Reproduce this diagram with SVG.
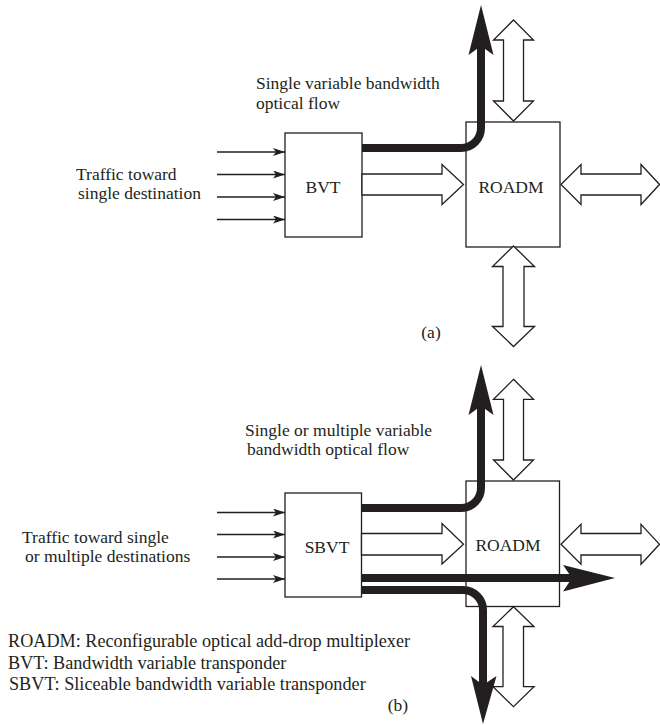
<svg xmlns="http://www.w3.org/2000/svg" width="660" height="725" viewBox="0 0 660 725">
<defs>
<style>
text{font-family:"Liberation Serif","Times New Roman",serif;font-size:17.5px;fill:#231f20}
.leg{font-size:18.2px}
.box{fill:#fff;stroke:#231f20;stroke-width:1.3}
.hollow{fill:#fff;stroke:#231f20;stroke-width:1.3;stroke-linejoin:miter}
.in{stroke:#231f20;stroke-width:1.3;fill:none;marker-end:url(#dart)}
.flow{stroke:#231f20;stroke-width:8;fill:none}
.head{fill:#231f20;stroke:none}
.mid{text-anchor:middle}
</style>
<marker id="dart" viewBox="0 0 12 8" refX="12" refY="4" markerWidth="12" markerHeight="8" markerUnits="userSpaceOnUse" orient="auto">
<path d="M0,0 L12,4 L0,8 L3,4 Z" fill="#231f20"/>
</marker>
</defs>
<rect width="660" height="725" fill="#fff"/>

<!-- Part (a) -->
<g id="a-labels">
<text x="256" y="88.5">Single variable bandwidth</text>
<text x="256" y="108.5">optical flow</text>
<text x="76" y="180">Traffic toward</text>
<text x="78" y="199">single destination</text>
<text class="mid" x="431" y="338">(a)</text>
</g>
<g id="a-bvt">
<rect class="box" x="285" y="133" width="77" height="104"/>
<text class="mid" x="323" y="193">BVT</text>
</g>
<g id="a-roadm">
<rect class="box" x="466" y="122" width="94" height="125"/>
<text class="mid" x="511" y="193">ROADM</text>
</g>
<g id="a-connectors">
<line class="in" x1="217" y1="152" x2="285" y2="152"/>
<line class="in" x1="217" y1="174.5" x2="285" y2="174.5"/>
<line class="in" x1="217" y1="197" x2="285" y2="197"/>
<line class="in" x1="217" y1="219.5" x2="285" y2="219.5"/>
<polygon class="hollow" points="362,174 442,174 442,164.5 463.5,184.5 442,204.5 442,195 362,195"/>
<polygon class="hollow" points="513.5,20 533.5,40 523.5,40 523.5,101 533.5,101 513.5,121 493.5,101 503.5,101 503.5,40 493.5,40"/>
<polygon class="hollow" points="513.5,246 534.5,266.5 524,266.5 524,326.5 534.5,326.5 513.5,346.5 492.5,326.5 503,326.5 503,266.5 492.5,266.5"/>
<polygon class="hollow" points="561,184.5 581,164.5 581,174 641,174 641,164.5 659.5,184.5 641,204.5 641,195 581,195 581,204.5"/>
<path class="flow" d="M362,148 H461 A20,20 0 0 0 481,128 V46"/>
<polygon class="head" points="481,5 493.5,55 481,46 468.5,55"/>
</g>

<!-- Part (b) -->
<g id="b-labels">
<text x="245" y="435.5">Single or multiple variable</text>
<text x="247" y="455">bandwidth optical flow</text>
<text x="22" y="543">Traffic toward single</text>
<text x="25" y="562">or multiple destinations</text>
<text class="mid" x="398" y="711">(b)</text>
</g>
<g id="legend">
<text class="leg" x="8" y="647">ROADM: Reconfigurable optical add-drop multiplexer</text>
<text class="leg" x="8" y="668.5">BVT: Bandwidth variable transponder</text>
<text class="leg" x="9" y="690">SBVT: Sliceable bandwidth variable transponder</text>
</g>
<g id="b-sbvt">
<rect class="box" x="285" y="493" width="76.5" height="104"/>
<text class="mid" x="327" y="553">SBVT</text>
</g>
<g id="b-roadm">
<rect class="box" x="466" y="481" width="93.5" height="125.5"/>
<text class="mid" x="508" y="551">ROADM</text>
</g>
<g id="b-connectors">
<line class="in" x1="217" y1="512.5" x2="285" y2="512.5"/>
<line class="in" x1="217" y1="534.5" x2="285" y2="534.5"/>
<line class="in" x1="217" y1="557" x2="285" y2="557"/>
<line class="in" x1="217" y1="579" x2="285" y2="579"/>
<polygon class="hollow" points="361.5,533.5 442,533.5 442,523.5 463.5,544.3 442,564 442,555 361.5,555"/>
<polygon class="hollow" points="513.5,379.3 533.5,399.3 523.5,399.3 523.5,460 533.5,460 513.5,480 493.5,460 503.5,460 503.5,399.3 493.5,399.3"/>
<polygon class="hollow" points="513.5,606.7 534,626.5 523.5,626.5 523.5,686.7 534,686.7 513.5,706.7 493,686.7 503,686.7 503,626.5 493,626.5"/>
<polygon class="hollow" points="561,544.3 581,524.3 581,533.5 641,533.5 641,524.3 659.5,544.3 641,564.3 641,555 581,555 581,564.3"/>
<path class="flow" d="M361.5,508 H461 A20,20 0 0 0 481,488 V405"/>
<polygon class="head" points="481,365 493.5,415 481,406 468.5,415"/>
<path class="flow" d="M361.5,578 H573"/>
<polygon class="head" points="615,578 563,565 572,578 563,591.5"/>
<path class="flow" d="M361.5,590 H463 A20,20 0 0 1 483,610 V686"/>
<polygon class="head" points="483,724 471,676 483,685 496.5,676"/>
</g>
</svg>
